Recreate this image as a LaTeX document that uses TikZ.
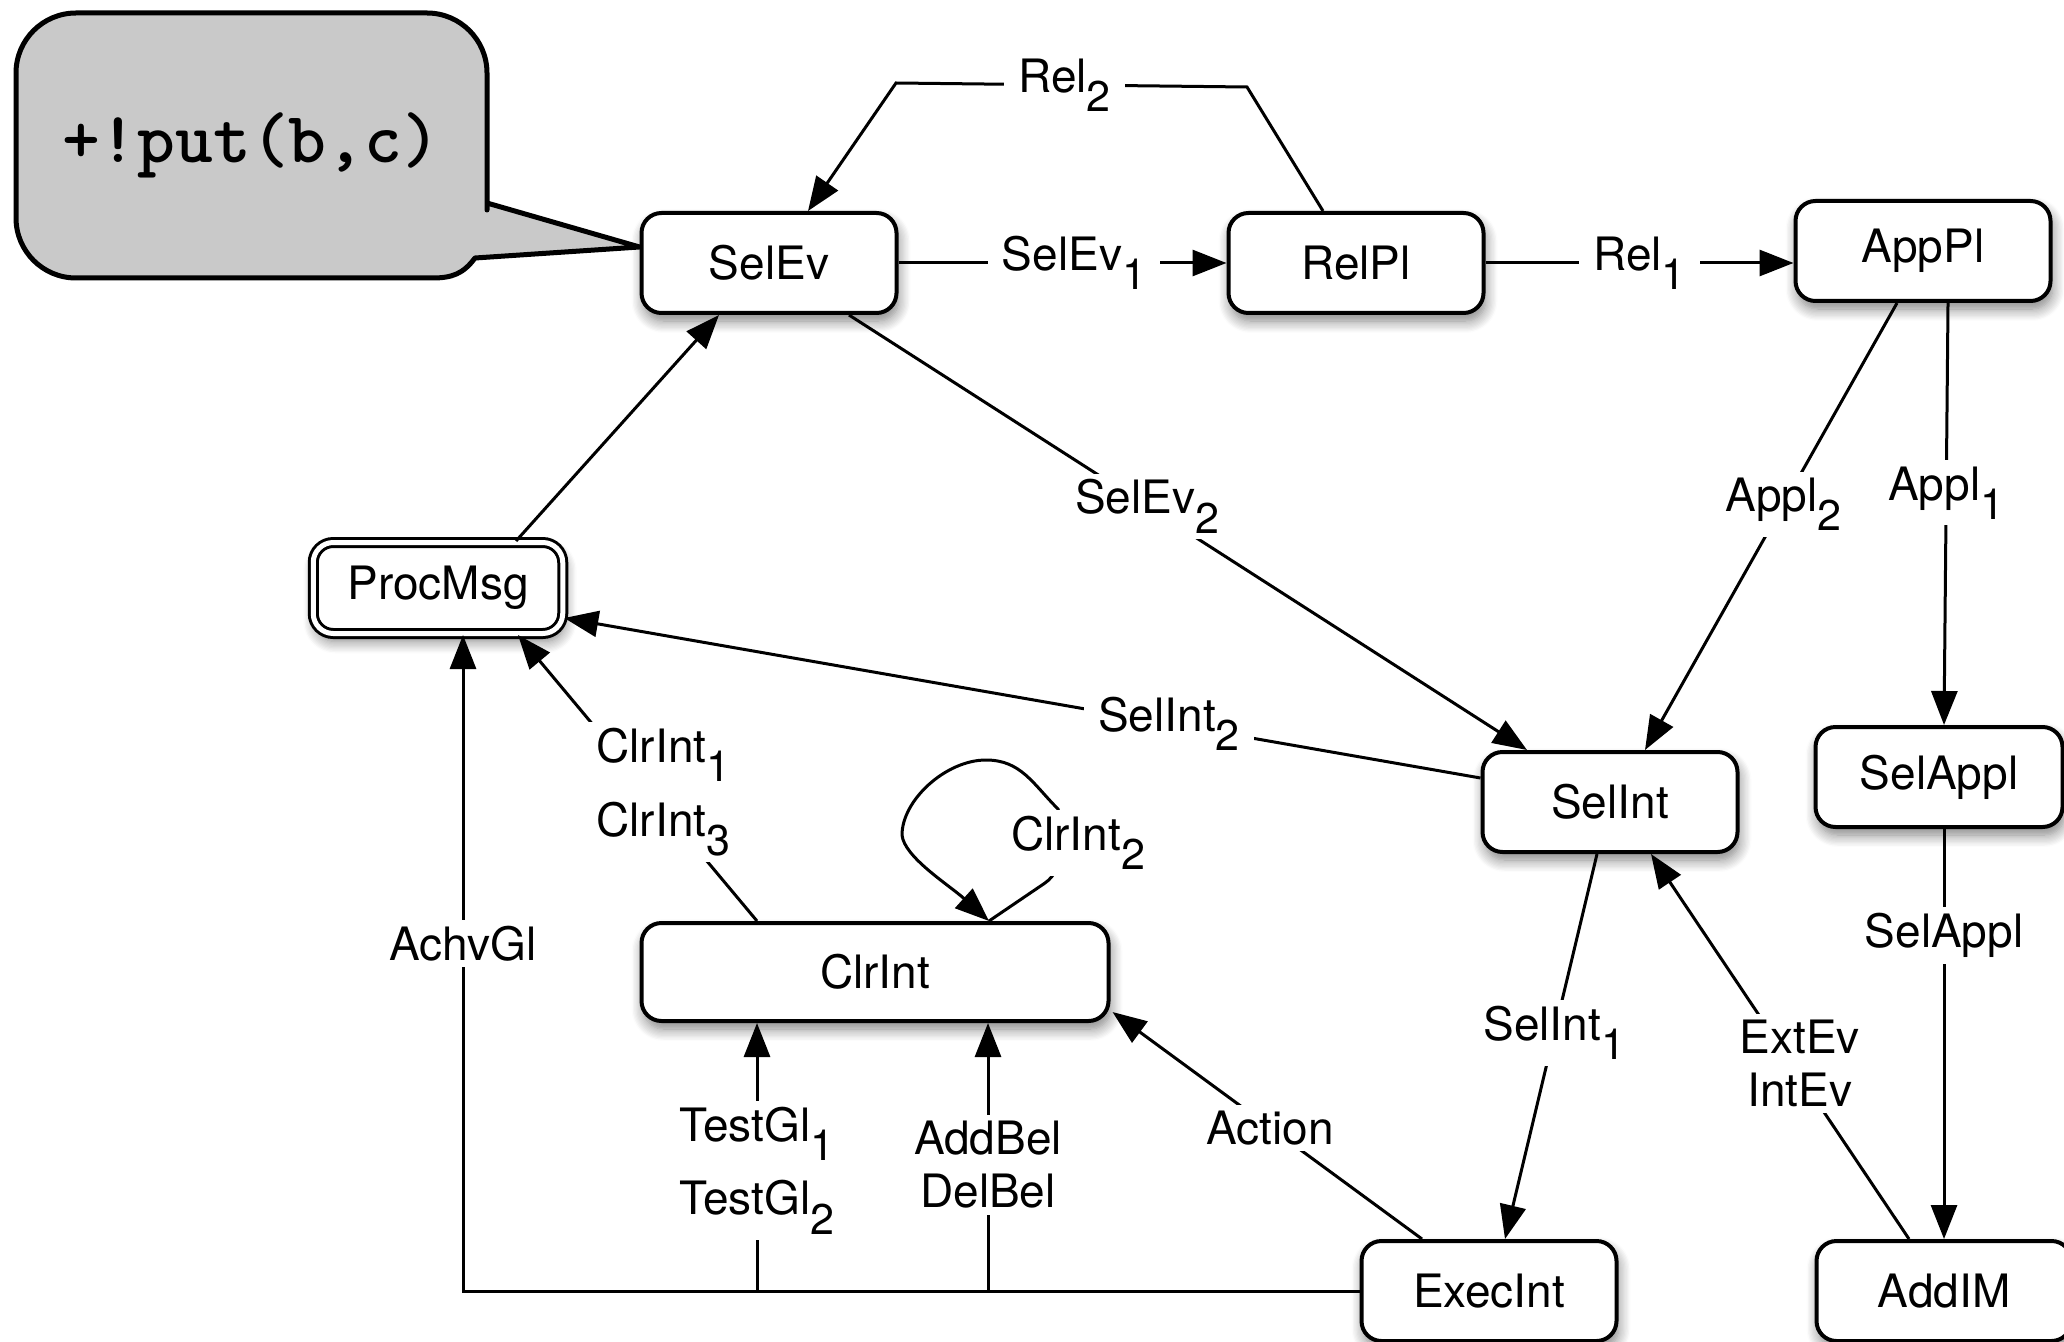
\documentclass[tikz,border=0pt]{standalone}
\usepackage{fontspec}
\setmainfont{TeX Gyre Heros}
\usetikzlibrary{arrows.meta,calc,shadows.blur}

% lowered, nearly full-size index used in the edge labels
\newcommand\subs[1]{\raisebox{-0.42em}{\fontsize{21.5}{21.5}\selectfont #1}}

\begin{document}
\begin{tikzpicture}[x=0.5pt, y=-0.5pt,
  font=\fontsize{23}{26.5}\selectfont,
  proc/.style={draw, line width=2pt, rounded corners=10pt, fill=white,
    minimum width=127.5pt, minimum height=50pt, inner sep=0pt,
    blur shadow={shadow xshift=1pt, shadow yshift=-4pt,
      shadow blur radius=6pt, shadow blur steps=10, shadow opacity=50}},
  link/.style={line width=1.5pt},
  arr/.style={link, -{Triangle[length=17pt,width=13pt]}},
  lbl/.style={fill=white, inner xsep=7pt, inner ysep=3pt, align=center},
  callout/.style={draw, line width=2.5pt, line join=round,
    fill={rgb,255:red,201;green,201;blue,201}},
]
\useasboundingbox (0,0) rectangle (2064,1342);

% states
\node[proc] (SelEv)   at (769,263)  {SelEv};
\node[proc] (RelPl)   at (1356,263) {RelPl};
\node[proc] (AppPl)   at (1923,251) {AppPl};
\node[proc, double, double distance=2.5pt, line width=1.5pt,
      minimum width=124.75pt, minimum height=45.5pt] (ProcMsg) at (438,588) {ProcMsg};
\node[proc] (SelInt)  at (1610,802) {SelInt};
\node[proc, minimum width=123.5pt] (SelAppl) at (1939,777) {SelAppl};
\node[proc] (ExecInt) at (1489,1291) {ExecInt};
\node[proc] (AddIM)   at (1944,1291) {AddIM};
\node[proc, minimum width=233.5pt, minimum height=49pt] (ClrInt) at (875,972) {ClrInt};

% speech bubble pointing at SelEv
\draw[callout] (487,203) -- ([yshift=8pt]SelEv.west) -- (475,258)
  .. controls (463,274) and (452,278) .. (432,278)
  [rounded corners=30pt] -- (16,278) -- (16,13) -- (487,13) -- (487,150)
  [sharp corners] -- cycle;
\node[font=\ttfamily\bfseries\fontsize{36}{36}\selectfont] (put) at (251,145) {+!put(b,c)};

% top row
\coordinate (r2a) at (1247,87);
\coordinate (r2b) at (896,83);
\draw[arr] ($(RelPl.north)+(-33,0)$) -- (r2a) -- node[lbl,pos=0.52]{Rel\subs{2}} (r2b)
  -- ($(SelEv.north)+(39,0)$);
\draw[arr] (SelEv.east) -- node[lbl,pos=0.535]{SelEv\subs{1}} (RelPl.west);
\draw[arr] (RelPl.east) -- node[lbl]{Rel\subs{1}} (RelPl.east -| AppPl.west);

% diagonals
\draw[arr] ($(SelEv.south)+(80,0)$) -- node[lbl,pos=0.44]{SelEv\subs{2}}
  ($(SelInt.north)+(-83,0)$);
\draw[arr] ($(SelInt.west)+(0,-24)$) -- node[lbl,pos=0.34]{SelInt\subs{2}}
  ($(ProcMsg.east)+(0,30)$);
\draw[arr] ($(ProcMsg.north)+(78,0)$) -- ($(SelEv.south)+(-50,0)$);
\draw[arr] ($(AppPl.south)+(-26,0)$) -- node[lbl,pos=0.45]{Appl\subs{2}}
  ($(SelInt.north)+(35,0)$);
\draw[arr] ($(AppPl.south)+(25,0)$) -- node[lbl,pos=0.45]{Appl\subs{1}}
  ($(SelAppl.north)+(5,0)$);
\draw[arr] ($(SelAppl.south)+(5,0)$) -- node[lbl,pos=0.26]{SelAppl}
  ($(AddIM.north)+(0,0)$);
\draw[arr] ($(AddIM.north)+(-35,0)$) -- node[lbl,pos=0.455,xshift=4pt]{ExtEv\\IntEv}
  ($(SelInt.south)+(41,0)$);
\draw[arr] ($(SelInt.south)+(-13,0)$) -- node[lbl,pos=0.465]{SelInt\subs{1}}
  ($(ExecInt.north)+(16,0)$);
\draw[arr] ($(ExecInt.north)+(-67,0)$) -- node[lbl,pos=0.49]{Action}
  ($(ClrInt.east)+(2,40)$);
\draw[arr] ($(ClrInt.north)+(-118,0)$) -- node[lbl,pos=0.45,xshift=7pt]{ClrInt\subs{1}\\[9pt]ClrInt\subs{3}}
  ($(ProcMsg.south)+(80,0)$);

% bottom bus from ExecInt
\coordinate (bus) at ($(ExecInt.west -| ProcMsg.south)+(25,0)$);
\draw[arr] (ExecInt.west) -- (bus) -- node[lbl,pos=0.53]{AchvGl}
  ($(ProcMsg.south)+(25,0)$);
\coordinate (tgTop) at ($(ClrInt.south)+(-118,0)$);
\coordinate (tgBot) at (tgTop |- ExecInt.west);
\draw[arr] (tgBot) -- node[lbl,pos=0.45]{TestGl\subs{1}\\[9pt]TestGl\subs{2}} (tgTop);
\coordinate (abTop) at ($(ClrInt.south)+(113,0)$);
\coordinate (abBot) at (abTop |- ExecInt.west);
\draw[arr] (abBot) -- node[lbl,pos=0.47]{AddBel\\DelBel} (abTop);

% self loop on ClrInt
\coordinate (lp) at ($(ClrInt.north)+(114,0)$);
\draw[arr] (lp) -- ($(lp)+(56,-38)$)
  .. controls +(20,-14) and +(8,25) .. ($(lp)+(69,-112)$)
  .. controls +(-25,-25) and +(35,0) .. ($(lp)+(-3,-161)$)
  .. controls +(-40,0) and +(0,-35) .. ($(lp)+(-87,-86)$)
  .. controls +(2,22) and +(-40,-36) .. (lp)
  node[lbl] (c2) at (1078,843) {ClrInt\subs{2}};
\end{tikzpicture}
\end{document}
